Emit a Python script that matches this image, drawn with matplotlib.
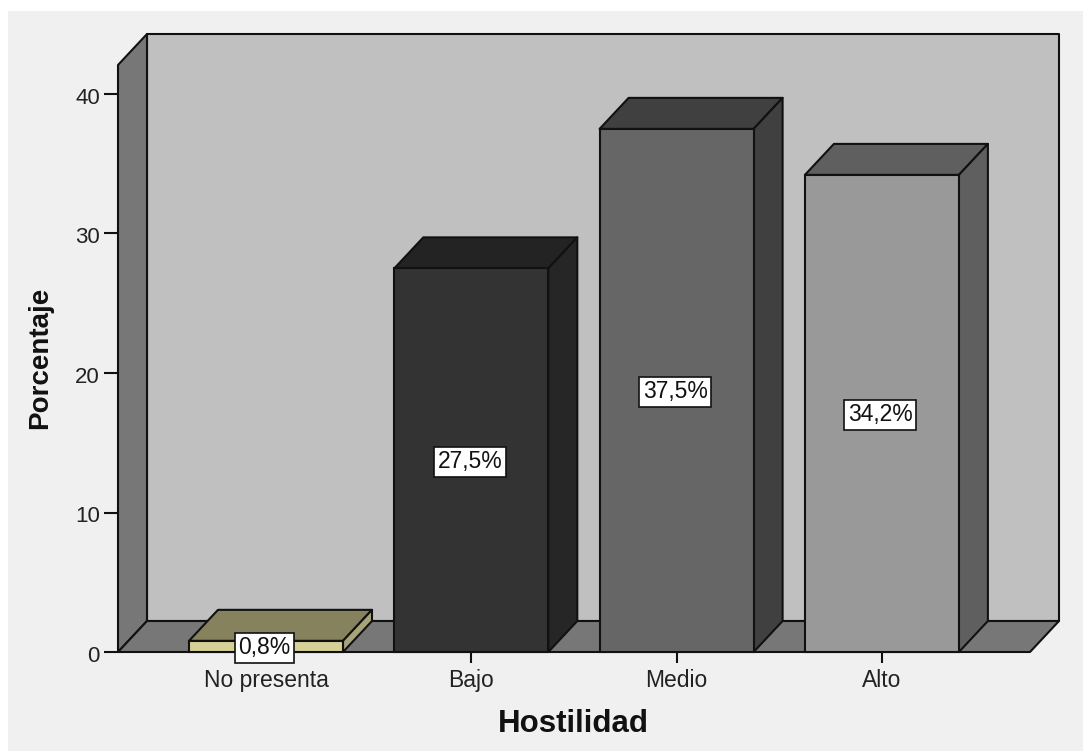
#!/usr/bin/env python3
"""
Hostilidad - 3D style bar chart
"""
import matplotlib
matplotlib.use("Agg")
import matplotlib.pyplot as plt
from matplotlib.patches import Rectangle
from matplotlib.transforms import ScaledTranslation

plt.rcParams["font.family"] = ["Liberation Sans", "DejaVu Sans"]

# -- Data --
categories = ["No presenta", "Bajo", "Medio", "Alto"]
percent = [0.8, 27.5, 37.5, 34.2]
point_labels = ["0,8%", "27,5%", "37,5%", "34,2%"]
y_ticks = [0, 10, 20, 30, 40]

# -- Palette --
PANEL = "#F0F0F0"
WALL = "#C0C0C0"
WALL_DARK = "#777777"
EDGE = "#111111"
TEXT = "#222222"
FRONT = ["#D6D096", "#333333", "#666666", "#999999"]
TOP = ["#86825E", "#232323", "#404040", "#5F5F5F"]
SIDE = ["#A8A47A", "#262626", "#404040", "#5F5F5F"]

# -- Pixel layout --
W, H = 1083, 751
PX_X = 205.3   # px per category
PX_Y = 13.95   # px per percent
X0_PX = 266    # px of first category
Y0_PX = 652    # px of value 0
LEFT_PX, RIGHT_PX = 118, 1030
TOP_PX = 65
DEPTH_X_PX, DEPTH_Y_PX = 29, 31
BAR_W = 154 / PX_X
LW = 1.5

fig = plt.figure(figsize=(W / 100, H / 100), dpi=100, facecolor="white")
fig.patches.append(Rectangle((8 / W, 0), 1 - 8 / W, 1 - 11 / H, transform=fig.transFigure,
                             facecolor=PANEL, edgecolor="none", zorder=-1))

# axes cover front plane plus the depth offset
ax_l, ax_r = LEFT_PX, RIGHT_PX + DEPTH_X_PX
ax_t = TOP_PX - DEPTH_Y_PX
ax = fig.add_axes([ax_l / W, 1 - Y0_PX / H, (ax_r - ax_l) / W, (Y0_PX - ax_t) / H])
ax.patch.set_visible(False)
ax.set_xlim((ax_l - X0_PX) / PX_X, (ax_r - X0_PX) / PX_X)
ax.set_ylim(0, (Y0_PX - ax_t) / PX_Y)
for s in ax.spines.values():
    s.set_visible(False)

dx = DEPTH_X_PX / PX_X
dy = DEPTH_Y_PX / PX_Y
xl = (LEFT_PX - X0_PX) / PX_X
xr = (RIGHT_PX - X0_PX) / PX_X
yt = (Y0_PX - TOP_PX) / PX_Y

kw = dict(edgecolor=EDGE, linewidth=LW, joinstyle="round", clip_on=False)

# walls and floor
ax.fill([xl + dx, xr + dx, xr + dx, xl + dx], [dy, dy, yt + dy, yt + dy], facecolor=WALL, zorder=1, **kw)
ax.fill([xl, xl + dx, xl + dx, xl], [0, dy, yt + dy, yt], facecolor=WALL_DARK, zorder=1, **kw)
ax.fill([xl, xr, xr + dx, xl + dx], [0, 0, dy, dy], facecolor=WALL_DARK, zorder=1, **kw)

# bars
for i, v in enumerate(percent):
    a, b = i - BAR_W / 2, i + BAR_W / 2
    ax.fill([a, b, b + dx, a + dx], [v, v, v + dy, v + dy], facecolor=TOP[i], zorder=2, **kw)
    ax.fill([b, b + dx, b + dx, b], [0, dy, v + dy, v], facecolor=SIDE[i], zorder=2, **kw)
ax.bar(range(len(percent)), percent, BAR_W, color=FRONT, edgecolor=EDGE, linewidth=LW,
       zorder=3, clip_on=False)

# value labels, nudged to sit where the reference has them
nudge = ax.transData + ScaledTranslation(-1.5 / 100, -1.5 / 100, fig.dpi_scale_trans)
for i, (v, lab) in enumerate(zip(percent, point_labels)):
    ax.text(i, v / 2, lab, ha="center", va="center", fontsize=16.5, color="#111111", zorder=5,
            transform=nudge,
            bbox=dict(boxstyle="square,pad=0.16", facecolor="white", edgecolor=EDGE, linewidth=1.2))

# axes ticks and labels
ax.set_yticks(y_ticks)
ax.set_xticks(range(len(categories)))
ax.set_xticklabels(categories)
ax.tick_params(axis="y", length=10, width=1.5, color=EDGE, labelsize=16, labelcolor=TEXT, pad=3)
ax.tick_params(axis="x", length=8, width=1.5, color=EDGE, labelsize=16.5, labelcolor=TEXT, pad=4)
shift = ScaledTranslation(0, -2 / 100, fig.dpi_scale_trans)
for lab in ax.get_yticklabels():
    lab.set_transform(lab.get_transform() + shift)

fig.text(573 / W, 1 - 724 / H, "Hostilidad", ha="center", va="center",
         fontsize=22.5, fontweight="bold", color="#111111")
fig.text(40 / W, 1 - 358 / H, "Porcentaje", ha="center", va="center", rotation=90,
         fontsize=20, fontweight="bold", color="#111111")

fig.savefig("out.png", dpi=100, facecolor=fig.get_facecolor())
